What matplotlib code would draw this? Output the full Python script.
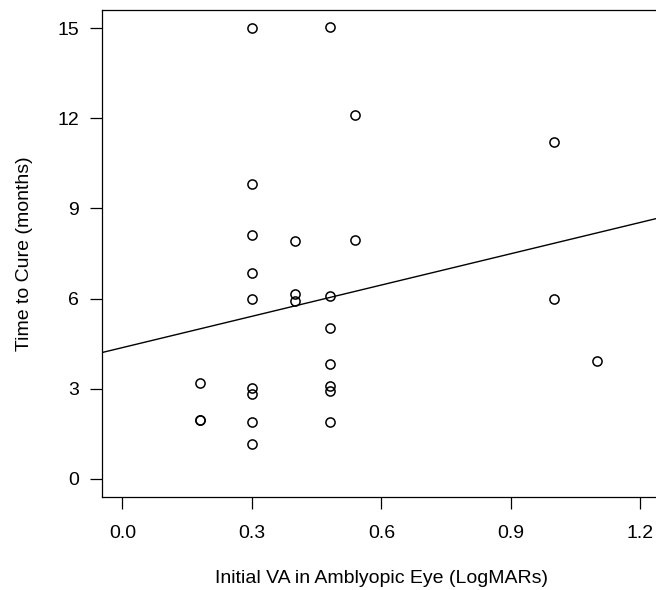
import matplotlib
matplotlib.use('Agg')
import matplotlib.pyplot as plt

# initial visual acuity (LogMAR) vs months to cure
va = [0.30, 0.48, 0.54, 0.30, 0.30, 0.40, 0.54, 0.30, 0.40, 0.48,
      0.30, 0.40, 0.48, 0.48, 0.48, 0.48, 0.48,
      0.18, 0.18, 0.18, 0.30, 0.30, 0.30, 0.30,
      1.00, 1.00, 1.10]
months = [15.0, 15.05, 12.1, 9.8, 8.1, 7.9, 7.95, 6.86, 6.17, 6.1,
          5.98, 5.93, 5.03, 3.83, 3.08, 2.94, 1.91,
          3.18, 1.96, 1.95, 3.02, 2.84, 1.91, 1.18,
          11.2, 5.98, 3.91]

# fitted regression line
intercept = 4.37
slope = 3.47

x_ticks = [0.0, 0.3, 0.6, 0.9, 1.2]
y_ticks = [0, 3, 6, 9, 12, 15]

plt.rcParams['font.family'] = ['Liberation Sans', 'DejaVu Sans']

fig = plt.figure(figsize=(6.56, 5.9), dpi=100)
ax = fig.add_axes([0.155, 0.1576, 0.8526, 0.8254])

ax.plot(va, months, linestyle='none', marker='o', markersize=6.6,
        markerfacecolor='none', markeredgecolor='black', markeredgewidth=1.1)
ax.axline((0, intercept), slope=slope, color='black', linewidth=1.0)

ax.set_xlim(-0.048, 1.248)
ax.set_ylim(-0.6, 15.6)
ax.set_xticks(x_ticks)
ax.set_xticklabels([f'{t:.1f}' for t in x_ticks])
ax.set_yticks(y_ticks)
ax.tick_params(axis='both', length=8.6, width=0.9, labelsize=14, pad=7.5)
ax.tick_params(axis='x', pad=11.5)

for s in ax.spines.values():
    s.set_linewidth(0.9)

ax.set_xlabel('Initial VA in Amblyopic Eye (LogMARs)', fontsize=14, labelpad=20)
ax.set_ylabel('Time to Cure (months)', fontsize=14, labelpad=18)

fig.savefig('out.png', dpi=100)
